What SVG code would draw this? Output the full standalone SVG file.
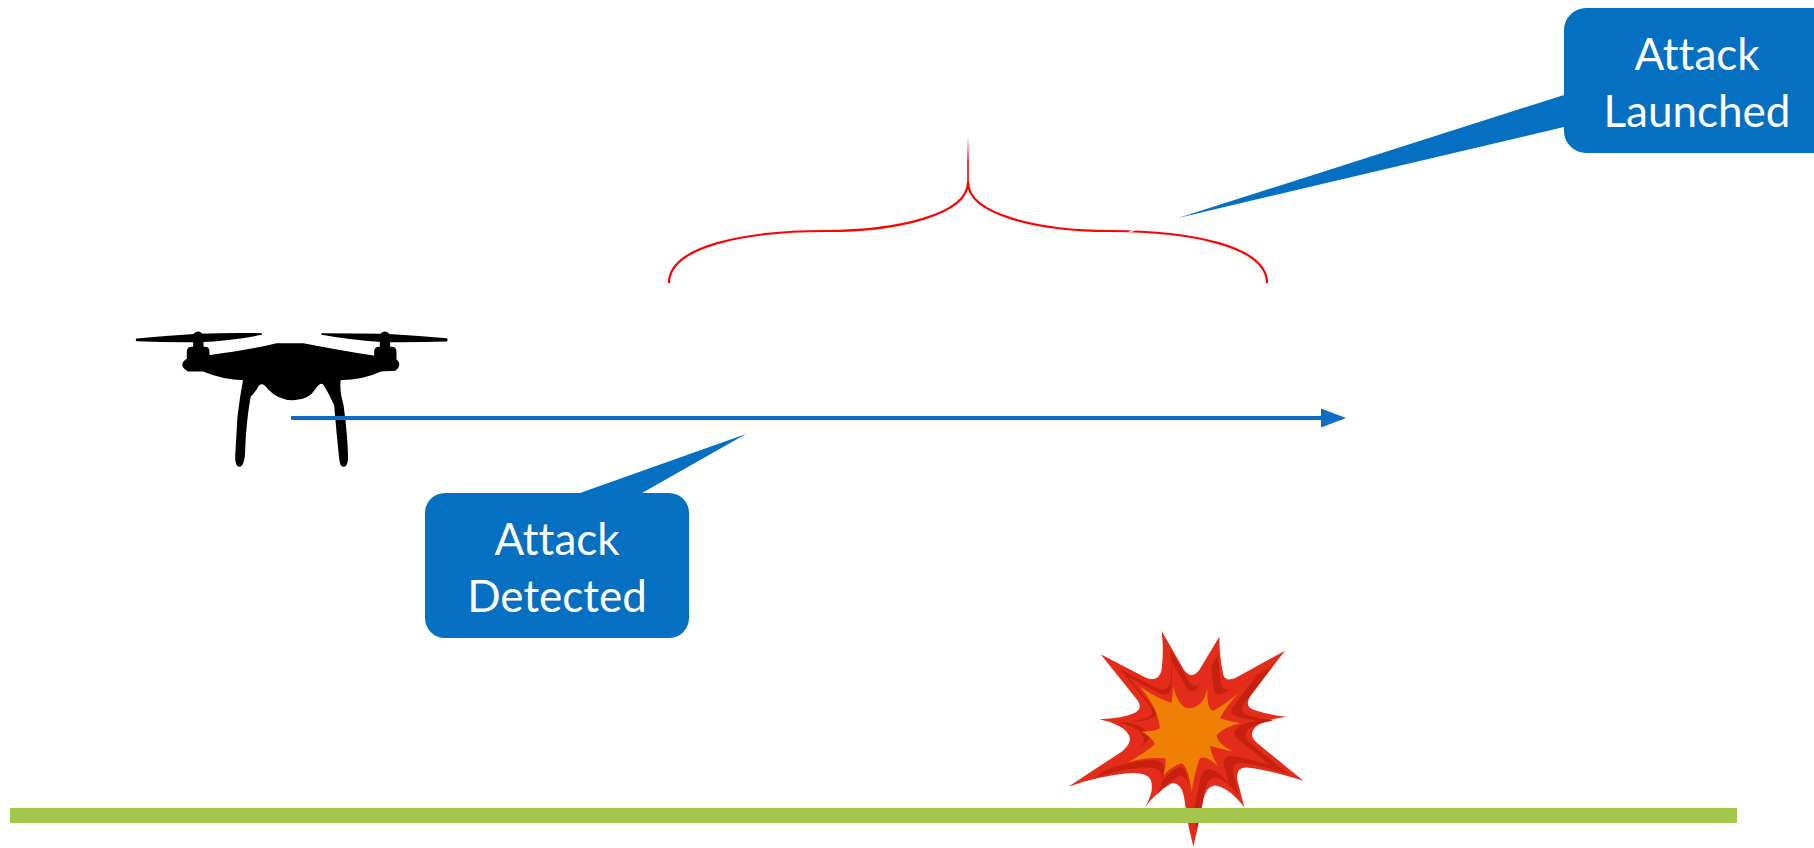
<svg xmlns="http://www.w3.org/2000/svg" width="1814" height="848" viewBox="0 0 1814 848">
<style>
.callout{fill:#0570c1}
.label{font-family:"Lato","Liberation Sans",sans-serif;font-size:44px;fill:#fff;text-anchor:middle;font-variant-ligatures:none}
.brace{fill:none;stroke:#ff0000;stroke-width:2.2}
</style>
<defs>
<linearGradient id="stem" gradientUnits="userSpaceOnUse" x1="968" y1="136" x2="968" y2="182"><stop offset="0" stop-color="#ff0000" stop-opacity="0"/><stop offset="0.6" stop-color="#ff0000"/></linearGradient>
<marker id="arrow" markerUnits="userSpaceOnUse" markerWidth="26" markerHeight="20" refX="4" refY="9.5" orient="auto"><path d="M0,0 L25,9.5 L0,19 Z" fill="#0f6cc6"/></marker>
<path id="burst-outer" d="M305,33 L372,150 Q395,180 418,150 L478,50 Q478,110 490,165 Q497,185 525,175 L675,92 L570,230 Q550,262 590,272 Q630,285 680,290 Q620,298 590,318 Q560,345 595,372 L730,482 Q620,448 565,443 Q525,440 532,480 L553,562 Q510,505 470,497 Q440,495 430,540 L415,615 L400,680 L385,615 L372,530 Q362,485 335,490 Q290,515 255,562 Q285,510 272,480 Q262,455 200,460 Q110,470 25,500 L185,395 Q225,365 200,335 Q175,310 118,298 Q190,295 225,278 Q250,265 232,240 L122,103 L255,172 Q295,190 305,150 Q312,90 305,33 Z"/>
</defs>
<rect width="1814" height="848" fill="#fff"/>
<g id="drone" transform="translate(120 310) scale(0.3333)" fill="#000" stroke="#000" stroke-width="5" stroke-linejoin="round">
<path d="M50,88 Q140,80 234,74 Q330,70 424,72 Q340,90 234,94 Q140,95 50,91Z"/>
<path d="M606,72 Q700,72 795,74 Q890,80 980,87 L980,92 Q890,95 795,94 Q690,88 606,72Z"/>
<circle cx="234" cy="80" r="13"/><circle cx="795" cy="80" r="13"/>
<rect x="222" y="80" width="26" height="36"/><rect x="782" y="80" width="26" height="36"/>
<path d="M203,125 Q203,113 215,113 L255,113 Q266,113 266,125 L266,138 Q400,120 470,102 L550,102 Q640,120 765,140 L765,125 Q765,113 777,113 L815,113 Q827,113 827,125 L827,148 Q845,165 825,180 L782,182 Q730,207 660,208 Q655,240 668,285 Q680,370 682,445 Q680,468 671,468 Q662,468 660,445 Q652,370 645,285 Q630,250 612,222 Q598,212 585,235 Q565,268 520,268 Q475,268 445,235 Q430,212 415,225 Q405,245 390,258 Q380,310 375,380 L372,440 Q368,468 358,468 Q348,468 348,440 L355,320 Q362,260 372,208 Q310,207 250,182 L205,182 Q175,165 203,148 Z"/>
</g>
<g id="brace"><path class="brace" d="M669,283 C669,246 746,231 826,231 C896,231 968,215 968,182 C968,215 1040,231 1110,231 C1190,231 1267,246 1267,283"/><path d="M968,136 V182" fill="none" stroke="url(#stem)" stroke-width="1.6"/><path d="M1129,232.5 L1135,229.5" stroke="#fff" stroke-width="1.5"/></g>
<g id="connectors"><line x1="291" y1="418" x2="1325" y2="418" stroke="#0f6cc6" stroke-width="4" marker-end="url(#arrow)"/></g>
<g id="attack-detected"><path class="callout" d="M445,493 H580 L746,434 L642,493 H669 A20,20 0 0 1 689,513 V618 A20,20 0 0 1 669,638 H445 A20,20 0 0 1 425,618 V513 A20,20 0 0 1 445,493 Z"/><text class="label" x="557" y="555">Attack</text><text class="label" x="557" y="612">Detected</text></g>
<g id="attack-launched"><path class="callout" d="M1586,8 H1814 V153 H1586 A22,22 0 0 1 1564,131 V127 L1178,218 L1564,95 V30 A22,22 0 0 1 1586,8 Z"/><text class="label" x="1697" y="70">Attack</text><text class="label" x="1697" y="127">Launched</text></g>
<g id="explosion" transform="translate(1060 620) scale(0.3333)">
<use href="#burst-outer" fill="#e32d1a"/>
<use href="#burst-outer" fill="#c8200f" transform="translate(410 335) scale(0.83) translate(-400 -330)"/>
<use href="#burst-outer" fill="#e32d1a" transform="translate(400 330) scale(0.7) translate(-400 -330)"/>
<path fill="#f08005" d="M240,200 Q300,240 335,248 L340,200 Q355,260 385,265 Q430,265 442,205 Q440,270 460,272 Q500,250 540,215 Q500,255 480,295 Q510,305 540,310 Q495,320 470,345 Q470,370 520,395 L450,378 Q455,410 475,440 Q440,405 420,415 Q405,450 395,515 Q385,440 365,430 Q335,440 310,465 Q320,430 315,415 Q260,410 205,427 Q260,395 285,372 Q275,350 245,335 Q285,335 300,325 Q295,265 240,200 Z"/>
</g>
<rect id="ground" x="10" y="808" width="1727" height="15" fill="#a5c64c"/>
</svg>
